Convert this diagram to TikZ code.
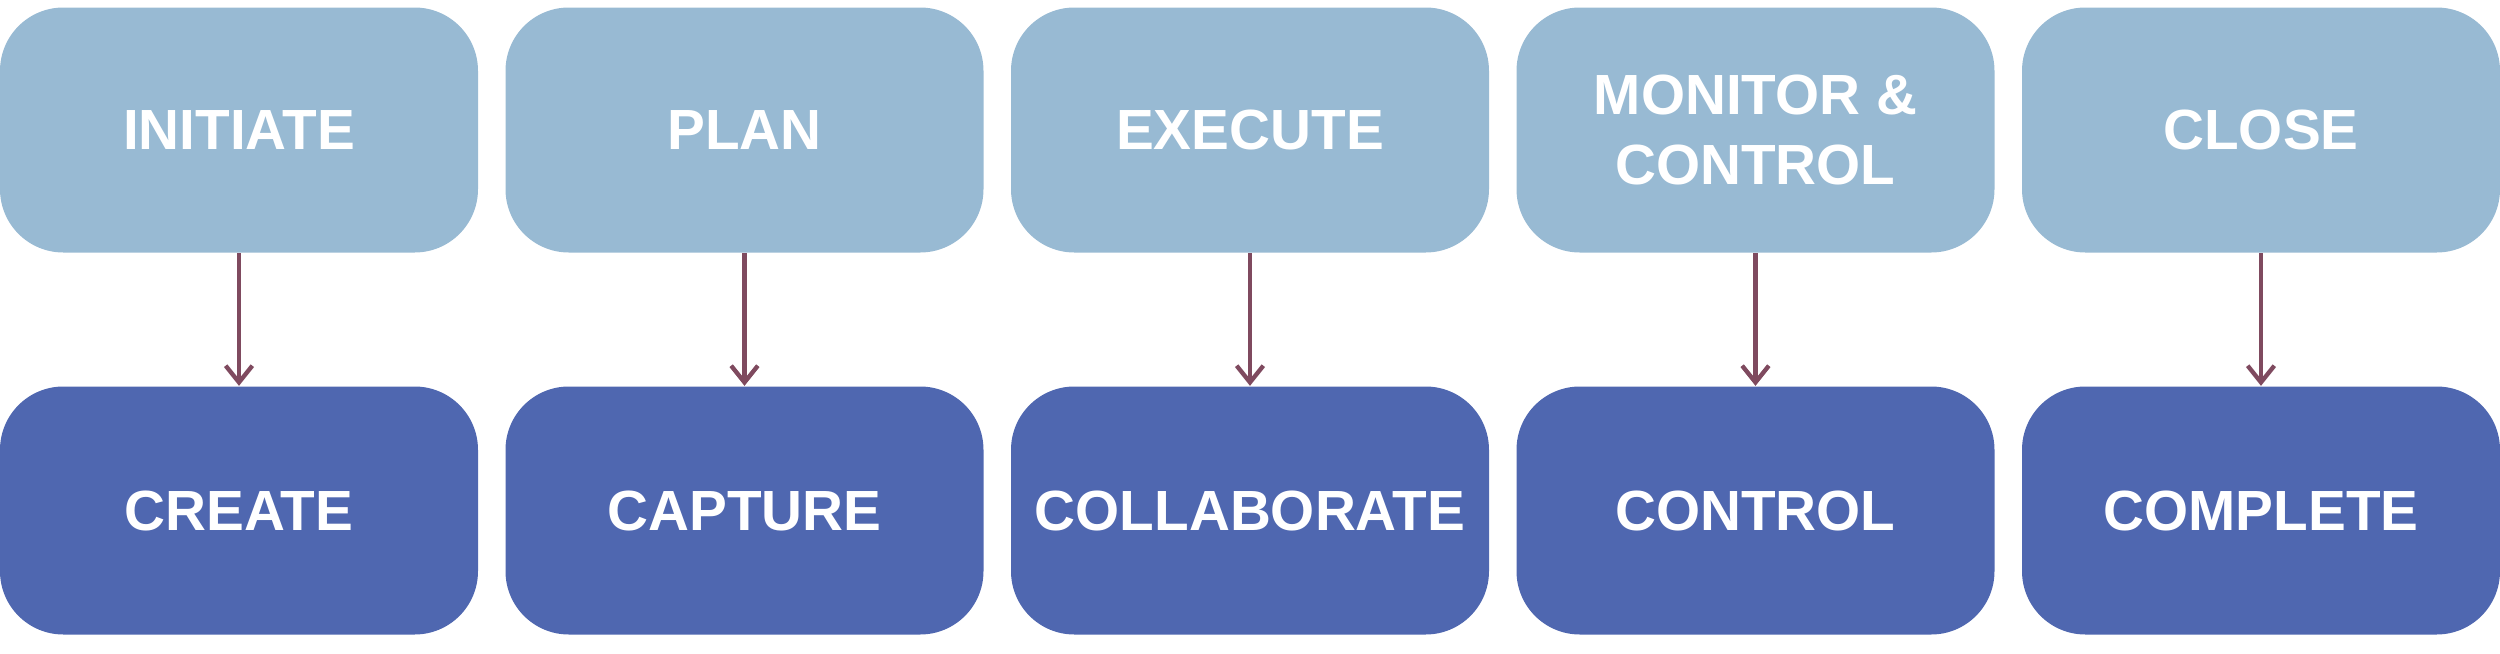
\documentclass[tikz,border=0pt]{standalone}
\usepackage{fontspec}
\setmainfont{Liberation Sans}
\definecolor{topc}{HTML}{98BAD3}
\definecolor{botc}{HTML}{4F67B0}
\definecolor{arrc}{HTML}{7F4A5F}
\begin{document}
\begin{tikzpicture}[x=0.3pt,y=-0.3pt,
  box/.style={rounded corners=19pt,minimum width=143.4pt,minimum height=73.5pt,inner sep=0pt,
    align=center,text=white,font=\fontsize{17}{21}\selectfont\bfseries},
  topbox/.style={box,fill=topc},
  botbox/.style={box,fill=botc},
  conn/.style={draw=arrc,line width=1.3pt,-{Straight Barb[length=5pt,width=8pt]}}]
\usetikzlibrary{arrows.meta}
\useasboundingbox (0,0) rectangle (2500,654);
\foreach \i/\t/\b in {0/INITIATE/CREATE,1/PLAN/CAPTURE,2/EXECUTE/COLLABORATE,3/{MONITOR \&\\CONTROL}/CONTROL,4/CLOSE/COMPLETE}{
  \node[topbox] (t\i) at (239+505.5*\i,130) {\t};
  \node[botbox,minimum height=74.4pt] (b\i) at (239+505.5*\i,510.5) {\b};
  \draw[conn] (t\i) -- (b\i);
}
\end{tikzpicture}
\end{document}
